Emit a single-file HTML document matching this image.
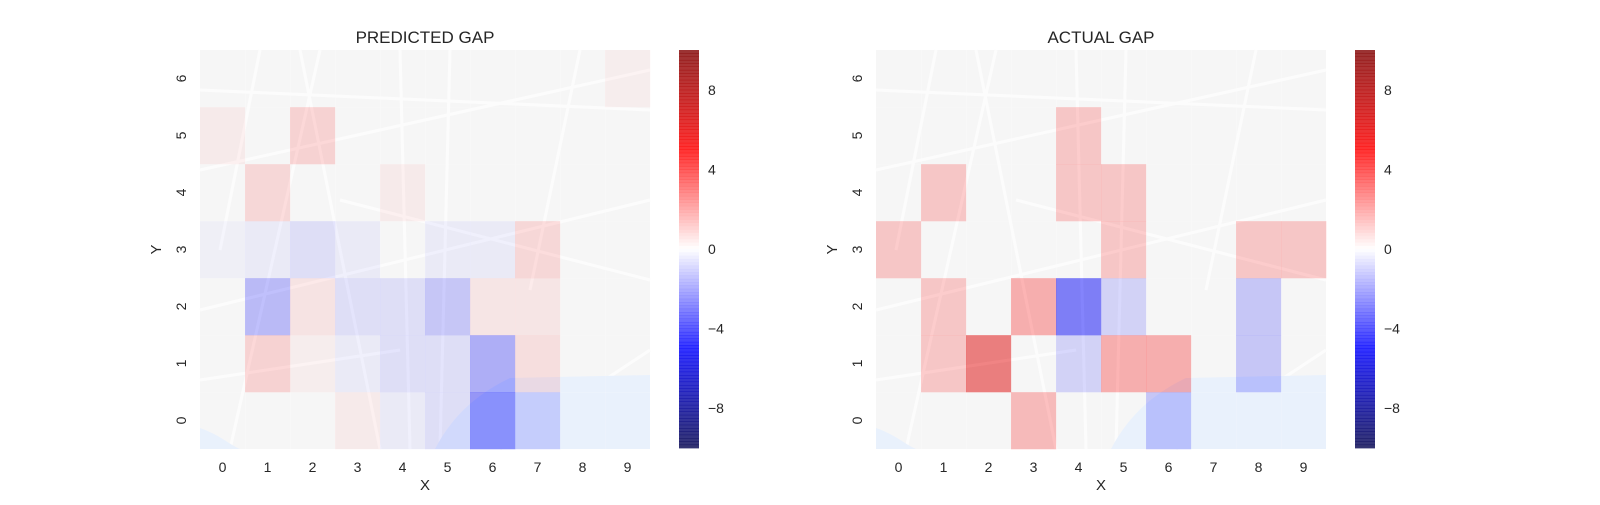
<!DOCTYPE html>
<html><head><meta charset="utf-8"><style>
body{margin:0;background:#fff;width:1600px;height:500px;overflow:hidden}
svg text{font-family:"Liberation Sans",sans-serif;fill:#262626}
</style></head><body>
<svg id="fig" width="1600" height="500" xmlns="http://www.w3.org/2000/svg"></svg>
<script>
const xCategories=[0,1,2,3,4,5,6,7,8,9];
const yCategories=[0,1,2,3,4,5,6];
// rows indexed by Y (0 bottom .. 6 top), columns X 0..9
const predictedGap=[
 [0,0,0,0.5,-0.5,-1,-4,-1.5,0,0],
 [0,1.5,0.4,-0.5,-1,-1,-3,1,0,0],
 [0,-2.5,0.8,-1,-1,-2,0.7,0.7,0,0],
 [-0.3,-0.5,-1,-0.5,0,-0.5,-0.5,1.3,0,0],
 [0,1.3,0,0,0.5,0,0,0,0,0],
 [0.5,0,1.5,0,0,0,0,0,0,0],
 [0,0,0,0,0,0,0,0,0,0.4]
];
const actualGap=[
 [0,0,0,2.5,0,0,-2,0,0,0],
 [0,2,6,0,-1.5,3,3,0,-2,0],
 [0,2,0,3,-5,-1.5,0,0,-2,0],
 [2,0,0,0,0,2,0,0,2,2],
 [0,2,0,0,2,2,0,0,0,0],
 [0,0,0,0,2,0,0,0,0,0],
 [0,0,0,0,0,0,0,0,0,0]
];
const cbTicks=[-8,-4,0,4,8];
const vMin=-10,vMax=10;
const NS="http://www.w3.org/2000/svg";
const fig=document.getElementById('fig');
function mk(tag,attrs,parent){const e=document.createElementNS(NS,tag);for(const k in attrs)e.setAttribute(k,attrs[k]);(parent||fig).appendChild(e);return e;}
function seismic(v){
 let t=(v-vMin)/(vMax-vMin);t=Math.max(0,Math.min(1,t));
 const st=[[0,0,0,0.3],[0.25,0,0,1],[0.5,1,1,1],[0.75,1,0,0],[1,0.5,0,0]];
 for(let i=0;i<4;i++){const a=st[i],b=st[i+1];if(t<=b[0]){const f=(t-a[0])/(b[0]-a[0]);
  const c=[1,2,3].map(j=>Math.round(255*(a[j]+(b[j]-a[j])*f)));return `rgb(${c[0]},${c[1]},${c[2]})`;}}
 return 'rgb(128,0,0)';
}
function drawPanel(ox,title,data,key){
 const W=450,H=399,top=50;
 const cw=W/xCategories.length,ch=H/yCategories.length;
 const xs=i=>ox+i*cw, ys=j=>top+H-(j+1)*ch;
 const g=mk('g',{});
 
 
 const m=mk('g',{},g);
 
 
 mk('rect',{x:ox,y:top,width:W,height:H,fill:'#efefef'},m);
 const roads=[[0,120,450,20],[30,399,120,0],[100,0,180,399],[250,0,240,399],[0,260,450,150],[140,150,450,230],[300,399,450,300],[380,0,330,240],[0,330,200,300],[60,0,20,200],[0,40,450,60],[200,0,210,399]];
 roads.forEach(r=>mk('line',{x1:ox+r[0],y1:top+r[1],x2:ox+r[2],y2:top+r[3],stroke:'#fafafa','stroke-width':3},m));
 mk('path',{d:`M${ox+235},${top+399} C${ox+255},${top+360} ${ox+285},${top+340} ${ox+310},${top+328} L${ox+450},${top+325} L${ox+450},${top+399} Z`,fill:'#d6e4fa'},m);
 mk('path',{d:`M${ox},${top+378} C${ox+20},${top+385} ${ox+30},${top+395} ${ox+40},${top+399} L${ox},${top+399} Z`,fill:'#d6e4fa'},m);
 for(let j=0;j<yCategories.length;j++)for(let i=0;i<xCategories.length;i++){
  const v=data[j][i];
  const r=mk('rect',{x:xs(i),y:ys(j),width:cw+0.3,height:ch+0.3,fill:seismic(v),'fill-opacity':0.47},g);
  
  
 }
 const t=mk('text',{x:ox+W/2,y:43,'text-anchor':'middle','font-size':17},g);t.textContent=title;
 
 xCategories.forEach((c,i)=>{const e=mk('text',{x:xs(i)+cw/2,y:472,'text-anchor':'middle','font-size':14},g);e.textContent=c;
  });
 yCategories.forEach((c,j)=>{const cy=ys(j)+ch/2;const e=mk('text',{x:ox-14,y:cy,'text-anchor':'middle','font-size':14,transform:`rotate(-90 ${ox-14} ${cy})`},g);e.textContent=c;
  });
 const xl=mk('text',{x:ox+W/2,y:490,'text-anchor':'middle','font-size':15},g);xl.textContent='X';
 
 const yx=ox-39,yy=top+H/2;
 const yl=mk('text',{x:yx,y:yy,'text-anchor':'middle','font-size':15,transform:`rotate(-90 ${yx} ${yy})`},g);yl.textContent='Y';
 
 const cx=ox+479,cbT=50,cbH=398,cbW=20;
 const cb=mk('g',{},g);
 
 const n=120;
 for(let k=0;k<n;k++){const v=vMax-(k+0.5)*(vMax-vMin)/n;
  mk('rect',{x:cx,y:cbT+k*cbH/n,width:cbW,height:cbH/n+0.4,fill:seismic(v),'fill-opacity':0.8},cb);}
 const cyv=v=>cbT+(vMax-v)/(vMax-vMin)*cbH;
 cbTicks.forEach(v=>{const e=mk('text',{x:cx+cbW+9,y:cyv(v)+5,'font-size':14},cb);e.textContent=v<0?'\u2212'+(-v):v;
  });
}
drawPanel(200,'PREDICTED GAP',predictedGap,'predicted');
drawPanel(876,'ACTUAL GAP',actualGap,'actual');
</script>
</body></html>
